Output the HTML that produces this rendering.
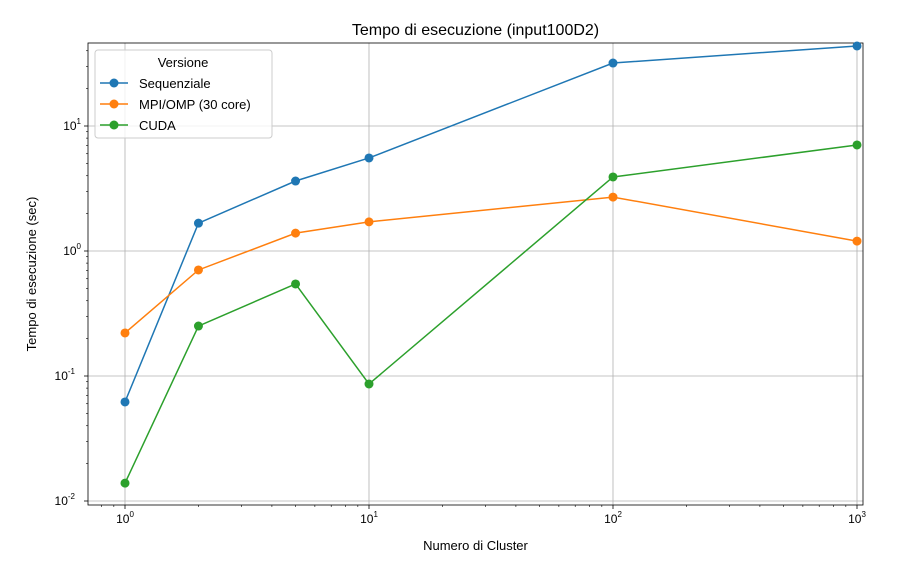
<!DOCTYPE html>
<html><head><meta charset="utf-8"><style>body{margin:0;background:#fff}svg{display:block;font-family:"Liberation Sans","DejaVu Sans",sans-serif}</style></head>
<body>
<svg id="chart" width="912" height="565" viewBox="0 0 912 565" xmlns="http://www.w3.org/2000/svg"></svg>
<script>
const categories = [1, 2, 5, 10, 100, 1000];
const seqValues = [0.062, 1.67, 3.63, 5.55, 31.9, 43.7];
const mpiValues = [0.221, 0.705, 1.39, 1.71, 2.70, 1.20];
const cudaValues = [0.0139, 0.251, 0.545, 0.0863, 3.91, 7.05];
const seriesNames = ["Sequenziale", "MPI/OMP (30 core)", "CUDA"];
const xTickExps = [0, 1, 2, 3];
const yTickExps = [-2, -1, 1, 0];

const L=88,R=863,T=43,B=505;
const xs=v=>125+244*Math.log10(v);
const ys=v=>251-125*Math.log10(v);
const svg=document.getElementById('chart');
const NS='http://www.w3.org/2000/svg';
function mk(tag,attrs,parent){const e=document.createElementNS(NS,tag);for(const k in attrs)e.setAttribute(k,attrs[k]);(parent||svg).appendChild(e);return e;}

// grid
for(const e of xTickExps){const x=xs(Math.pow(10,e));
 const g=mk('line',{x1:x,x2:x,y1:T,y2:B,stroke:'#b0b0b0','stroke-width':0.8});
 
 }
for(const e of yTickExps){const y=ys(Math.pow(10,e));
 const g=mk('line',{x1:L,x2:R,y1:y,y2:y,stroke:'#b0b0b0','stroke-width':0.8});
 
 }
// minor ticks
for(let d=-1;d<=3;d++)for(let k=2;k<=9;k++){const x=xs(k*Math.pow(10,d));if(x<L||x>R)continue;
 mk('line',{x1:x,x2:x,y1:B,y2:B+2,stroke:'#000','stroke-width':0.6});}
for(let d=-3;d<=1;d++)for(let k=2;k<=9;k++){const y=ys(k*Math.pow(10,d));if(y<T||y>B)continue;
 mk('line',{x1:L,x2:L-2,y1:y,y2:y,stroke:'#000','stroke-width':0.6});}
// major ticks + labels
for(const e of xTickExps){const x=xs(Math.pow(10,e));
 mk('line',{x1:x,x2:x,y1:B,y2:B+4,stroke:'#000','stroke-width':0.8});
 const t=mk('text',{x:x,y:B+18,'text-anchor':'middle','font-size':12});
 
 
 t.innerHTML='10<tspan dy="-6" font-size="8">'+e+'</tspan>';}
for(const e of yTickExps){const y=ys(Math.pow(10,e));
 mk('line',{x1:L,x2:L-4,y1:y,y2:y,stroke:'#000','stroke-width':0.8});
 const t=mk('text',{x:L-7-(e<0?6:0),y:y+4,'text-anchor':'end','font-size':12});
 
 
 t.innerHTML='10<tspan dy="-6" font-size="8">'+e+'</tspan>';}
// frame
const fr=mk('rect',{x:L,y:T,width:R-L,height:B-T,fill:'none',stroke:'#000','stroke-width':0.8});



const colors=['#1f77b4','#ff7f0e','#2ca02c'];
[seqValues,mpiValues,cudaValues].forEach((vals,i)=>{
 const g=mk('g',{});
 
 
 mk('polyline',{points:categories.map((c,j)=>xs(c)+','+ys(vals[j])).join(' '),fill:'none',stroke:colors[i],'stroke-width':1.5},g);
 categories.forEach((c,j)=>{const p=mk('circle',{cx:xs(c),cy:ys(vals[j]),r:4.5,fill:colors[i]},g);
  
  });
});

// titles
let t=mk('text',{x:475.5,y:35,'text-anchor':'middle','font-size':16});t.textContent='Tempo di esecuzione (input100D2)';

t=mk('text',{x:475.5,y:550,'text-anchor':'middle','font-size':13});t.textContent='Numero di Cluster';

t=mk('text',{x:36,y:274,'text-anchor':'middle','font-size':13,transform:'rotate(-90 36 274)'});t.textContent='Tempo di esecuzione (sec)';


// legend
const lg=mk('g',{});


mk('rect',{x:95,y:50,width:177,height:88,rx:3,fill:'#fff','fill-opacity':0.8,stroke:'#ccc'},lg);
const lt=mk('text',{x:183,y:67,'text-anchor':'middle','font-size':13},lg);lt.textContent='Versione';
seriesNames.forEach((n,i)=>{const y=83+21*i;
 const e=mk('g',{},lg);
 
 
 mk('line',{x1:100,x2:128,y1:y,y2:y,stroke:colors[i],'stroke-width':1.5},e);
 mk('circle',{cx:114,cy:y,r:4.5,fill:colors[i]},e);
 const tx=mk('text',{x:139,y:y+5,'font-size':13},e);tx.textContent=n;});
</script>
</body></html>
